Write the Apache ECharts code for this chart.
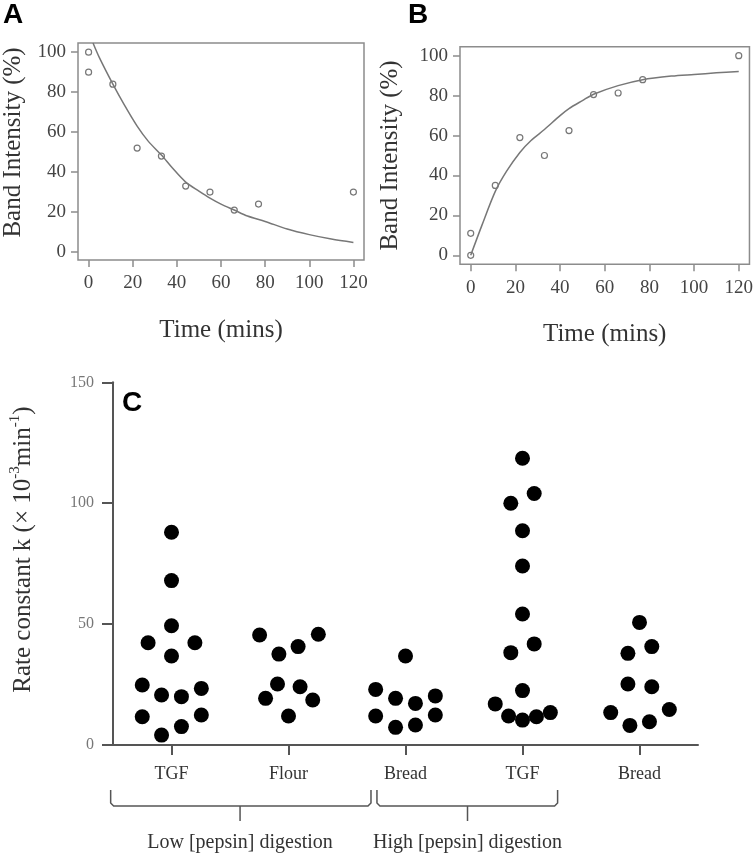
<!DOCTYPE html>
<html>
<head>
<meta charset="utf-8">
<script src="https://cdn.jsdelivr.net/npm/echarts@6/dist/echarts.min.js"></script>
<style>
html,body{margin:0;padding:0;background:#fff;}
#chart{width:756px;height:856px;}
</style>
</head>
<body>
<div id="chart"></div>
<script>
// ---- Panel A: band intensity decay ----
const timeA = [0, 0, 11, 22, 33, 44, 55, 66, 77, 120];
const bandA = [100, 90, 84, 52, 48, 33, 30, 21, 24, 30];
const fitTimeA = [2, 5, 11, 16, 22, 27, 33, 38, 44, 50, 55, 60, 66, 72, 80, 90, 100, 110, 120];
const fitA = [104.6, 97, 84, 74, 63, 55.5, 48.5, 42, 35, 30.5, 27, 24, 21, 18, 15.3, 11.5, 8.7, 6.5, 4.8];

// ---- Panel B: band intensity increase ----
const timeB = [0, 0, 11, 22, 33, 44, 55, 66, 77, 120];
const bandB = [0, 11, 35, 59, 50, 62.5, 80.5, 81.3, 88, 100];
const fitTimeB = [0, 5, 11, 16, 22, 27, 33, 40, 44, 50, 55, 66, 77, 90, 100, 110, 120];
const fitB = [0, 15, 32, 42, 51.5, 57.5, 63, 70, 73.5, 77.5, 80.7, 85, 88, 89.8, 90.6, 91.4, 92.1];

const timeTicks = [0, 20, 40, 60, 80, 100, 120];
const bandTicks = [0, 20, 40, 60, 80, 100];

// ---- Panel C: rate constants ----
const categories = ['TGF', 'Flour', 'Bread', 'TGF', 'Bread'];
const groupLabels = ['Low [pepsin] digestion', 'High [pepsin] digestion'];

const kTGFLow = [88, 68, 49.3, 42.3, 42.3, 36.8, 24.8, 23.4, 20.7, 20, 11.7, 12.4, 7.6, 4.1];
const jitterTGFLow = [0, 0, 0, -0.2, 0.2, 0, -0.25, 0.255, -0.085, 0.085, -0.25, 0.255, 0.085, -0.085];
const kFlourLow = [45.5, 45.8, 37.6, 40.7, 25.2, 24.1, 19.3, 18.6, 12];
const jitterFlourLow = [-0.247, 0.255, -0.082, 0.082, -0.094, 0.099, -0.196, 0.207, 0];
const kBreadLow = [36.8, 23, 19.3, 17.2, 20.3, 12, 12.4, 7.3, 8.3];
const jitterBreadLow = [0, -0.255, -0.085, 0.085, 0.255, -0.255, 0.255, -0.085, 0.085];
const kTGFHigh = [118.6, 104, 100, 88.6, 74, 54.2, 41.8, 38.2, 22.5, 17, 12, 10.3, 11.7, 13.4];
const jitterTGFHigh = [0, 0.1, -0.1, 0, 0, 0, 0.1, -0.1, 0, -0.233, -0.119, 0, 0.119, 0.238];
const kBreadHigh = [50.7, 37.9, 40.7, 25.2, 24.1, 13.4, 14.7, 8.1, 9.6];
const jitterBreadHigh = [0, -0.099, 0.105, -0.099, 0.105, -0.246, 0.255, -0.082, 0.085];

const groupsK = [kTGFLow, kFlourLow, kBreadLow, kTGFHigh, kBreadHigh];
const groupsJitter = [jitterTGFLow, jitterFlourLow, jitterBreadLow, jitterTGFHigh, jitterBreadHigh];

const serif = 'Liberation Serif, Times New Roman, serif';
const boxGray = '#8c8c8c';
const pts = (xs, ys) => xs.map((x, i) => [x, ys[i]]);

function timeAxis(gi) {
  return {
    gridIndex: gi, type: 'value', min: -4.8, max: 124.8,
    axisLine: { show: false, onZero: false },
    splitLine: { show: false },
    axisTick: { show: true, inside: false, length: 7, customValues: timeTicks, lineStyle: { color: boxGray, width: 1.5 } },
    axisLabel: { customValues: timeTicks, margin: 14, fontSize: 19, fontFamily: serif, color: '#444' },
    name: 'Time (mins)', nameLocation: 'middle', nameGap: 58,
    nameTextStyle: { fontSize: 25, fontFamily: serif, color: '#333' }
  };
}
function bandAxis(gi, mn, mx, gap, pad) {
  return {
    gridIndex: gi, type: 'value', min: mn, max: mx,
    axisLine: { show: false, onZero: false },
    splitLine: { show: false },
    axisTick: { show: true, inside: false, length: 7, customValues: bandTicks, lineStyle: { color: boxGray, width: 1.5 } },
    axisLabel: { customValues: bandTicks, margin: 12, fontSize: 19, fontFamily: serif, color: '#444' },
    name: 'Band Intensity (%)', nameLocation: 'middle', nameGap: gap,
    nameTextStyle: { fontSize: 25, fontFamily: serif, color: '#333', padding: pad }
  };
}

const catPositions = categories.map((c, i) => i);

const chart = echarts.init(document.getElementById('chart'), null, { renderer: 'canvas' });

const scatterC = groupsK.map((ks, gi) => ({
  type: 'scatter', xAxisIndex: 2, yAxisIndex: 2,
  symbol: 'circle', symbolSize: 15,
  itemStyle: { color: '#000', opacity: 1 },
  data: ks.map((k, j) => [gi + groupsJitter[gi][j], k]),
  silent: true
}));

const option = {
  animation: false,
  backgroundColor: '#fff',
  grid: [
    { left: 75, top: 43, width: 289, height: 217, show: true, borderColor: boxGray, borderWidth: 1.5, backgroundColor: 'transparent' },
    { left: 460, top: 46.7, width: 291, height: 217.6, show: true, borderColor: boxGray, borderWidth: 1.5, backgroundColor: 'transparent' },
    { left: 108.3, top: 382.3, width: 589.7, height: 362.7 }
  ],
  xAxis: [
    timeAxis(0),
    timeAxis(1),
    {
      gridIndex: 2, type: 'value', min: -0.5, max: 4.5,
      axisLine: { show: true, onZero: false, lineStyle: { color: '#555', width: 2 } },
      splitLine: { show: false },
      axisTick: { show: true, length: 10, customValues: catPositions, lineStyle: { color: '#555', width: 2 } },
      axisLabel: { customValues: catPositions, margin: 20, fontSize: 18, fontFamily: serif, color: '#333',
        formatter: v => categories[Math.round(v)] }
    }
  ],
  yAxis: [
    bandAxis(0, -4, 104.6, 52, [0, 0, 0, 18]),
    bandAxis(1, -4.5, 104.5, 57, [0, 0, 0, 0]),
    {
      gridIndex: 2, type: 'value', min: 0, max: 150, interval: 50,
      axisLine: { show: true, onZero: false, lineStyle: { color: '#555', width: 2 } },
      splitLine: { show: false },
      axisTick: { show: true, length: 11, lineStyle: { color: '#555', width: 2 } },
      axisLabel: { margin: 19, fontSize: 16, fontFamily: serif, color: '#777' },
      name: '{a|Rate constant k (× 10}{s|-3}{a|min}{s|-1}{a|)}',
      nameLocation: 'middle', nameGap: 75,
      nameTextStyle: {
        fontFamily: serif, color: '#333', padding: [0, 0, 0, 28],
        rich: {
          a: { fontSize: 25, fontFamily: serif, color: '#333', lineHeight: 30 },
          s: { fontSize: 15, fontFamily: serif, color: '#333', verticalAlign: 'top', lineHeight: 16 }
        }
      }
    }
  ],
  series: [
    { type: 'scatter', xAxisIndex: 0, yAxisIndex: 0, symbol: 'circle', symbolSize: 6,
      itemStyle: { color: 'rgba(0,0,0,0)', borderColor: '#777', borderWidth: 1.2, opacity: 1 },
      data: pts(timeA, bandA), silent: true },
    { type: 'line', xAxisIndex: 0, yAxisIndex: 0, showSymbol: false, smooth: 0.3,
      lineStyle: { color: '#777', width: 1.5 }, data: pts(fitTimeA, fitA), silent: true },
    { type: 'scatter', xAxisIndex: 1, yAxisIndex: 1, symbol: 'circle', symbolSize: 6,
      itemStyle: { color: 'rgba(0,0,0,0)', borderColor: '#777', borderWidth: 1.2, opacity: 1 },
      data: pts(timeB, bandB), silent: true },
    { type: 'line', xAxisIndex: 1, yAxisIndex: 1, showSymbol: false, smooth: 0.3,
      lineStyle: { color: '#777', width: 1.5 }, data: pts(fitTimeB, fitB), silent: true }
  ].concat(scatterC)
};
chart.setOption(option);

// ---- Annotations: panel letters and group brackets ----
const bracketSpans = [[-0.52, 1.705, 0.586], [1.756, 3.30, 2.53]];
const axisY = chart.convertToPixel({ yAxisIndex: 2 }, 0);
const letterFont = 'bold 28px Liberation Sans, Arial, sans-serif';
const graphics = [
  { type: 'text', x: 3, y: 1, style: { text: 'A', font: letterFont, fill: '#000' } },
  { type: 'text', x: 408, y: 1, style: { text: 'B', font: letterFont, fill: '#000' } },
  { type: 'text', x: 122, y: 389, style: { text: 'C', font: letterFont, fill: '#000' } }
];
bracketSpans.forEach((sp, i) => {
  const x0 = chart.convertToPixel({ xAxisIndex: 2 }, sp[0]);
  const x1 = chart.convertToPixel({ xAxisIndex: 2 }, sp[1]);
  const xs = chart.convertToPixel({ xAxisIndex: 2 }, sp[2]);
  const yTop = axisY + 45, yH = axisY + 61, yStem = axisY + 76;
  graphics.push({
    type: 'polyline',
    shape: { points: [[x0, yTop], [x0, yH - 3], [x0 + 3, yH], [x1 - 3, yH], [x1, yH - 3], [x1, yTop]] },
    style: { stroke: '#555', lineWidth: 1.5, fill: null }
  });
  graphics.push({
    type: 'line', shape: { x1: xs, y1: yH, x2: xs, y2: yStem },
    style: { stroke: '#555', lineWidth: 1.5 }
  });
  graphics.push({
    type: 'text', x: xs, y: axisY + 98,
    style: { text: groupLabels[i], font: '20px Liberation Serif, Times New Roman, serif', fill: '#333', textAlign: 'center', textVerticalAlign: 'middle' }
  });
});
chart.setOption({ graphic: graphics });
</script>
</body>
</html>
